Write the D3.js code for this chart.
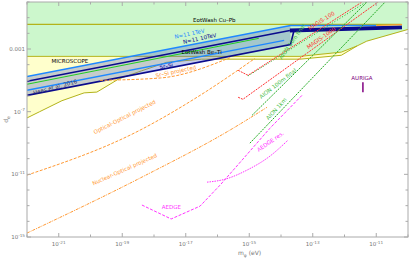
<!DOCTYPE html>
<html>
<head>
<meta charset="utf-8">
<script src="https://cdn.jsdelivr.net/npm/d3@7"></script>
<style>
  body { margin: 0; background: #fff; }
  text { font-family: "DejaVu Sans", sans-serif; }
</style>
</head>
<body>
<div id="chart"></div>
<script>
// all points are [log10 m_phi (eV), log10 d_e]
const eotwashCuPb = [[-22, -1.43], [-10.2, -1.43]];
const excludedLower = [[-22, -3.47], [-13.4, -3.47], [-12.1, -3.2], [-11.6, -2.8], [-11.3, -2.5], [-10, -1.75]];
const microscopeLower = [[-22, -7.4], [-21.6, -7.0], [-20.9, -6.3], [-20.2, -5.8], [-19.8, -5.75], [-19.1, -4.9],
  [-18.4, -4.4], [-17.6, -3.85], [-16.5, -3.65], [-13.4, -3.65], [-12.1, -3.4], [-11.6, -2.8]];

const tev1Upper = [[-22, -4.75], [-13.7, -1.5], [-11, -1.5]];
const tev10Upper = [[-22, -5.06], [-13.72, -1.82]];
const tev10Bar = [[-13.72, -1.82], [-10.19, -1.62]];
const heesLine = [[-22, -5.25], [-14.7, -2.32]];
const tev1Lower = [[-22, -5.64], [-13.9, -2.45]];
const tev10Lower = [[-22, -5.96], [-13.7, -2.71], [-13.6, -1.9]];
const orangeCap = [[-11, -1.5], [-10.19, -1.45]];

const opticalOptical = [[-22, -11.05], [-18.44, -8.18], [-16.55, -5.96], [-14.82, -3.6]];
const nuclearOptical = [[-22, -14.75], [-18.44, -11.24], [-15.61, -8.18], [-14.44, -6.72]];
const srSiProjected = [[-19.7, -5.0], [-17.8, -4.85], [-15.6, -3.55]];

const magis100 = [[-15.35, -4.36], [-15.04, -4.68], [-11.45, 0]];
const aion10 = [[-15.04, -4.72], [-11.32, 0]];
const magis1000 = [[-15.35, -6.08], [-15.2, -6.21], [-10.94, 0]];
const aion100 = [[-14.91, -7.23], [-11.29, 0]];
const aion1km = [[-14.98, -9.01], [-10.72, 0]];
const aedge = [[-18.38, -12.96], [-17.46, -13.85], [-16.55, -13.03], [-15.92, -11.69], [-15.23, -10.1],
  [-14.35, -8.06], [-13.34, -5.96]];
const aedgeRes = [[-16.33, -11.5], [-15.76, -11.31], [-15.07, -10.73], [-14.35, -9.84], [-13.78, -8.82]];
const auriga = [[-11.42, -5.13], [-11.42, -5.76]];

const xTickExps = d3.range(-22, -9);
const xLabelExps = [-21, -19, -17, -15, -13, -11];
const yTickExps = d3.range(-15, 1);
const yLabels = [[-3, "0.001"], [-7, "10", "-7"], [-11, "10", "-11"], [-15, "10", "-15"]];

const W = 411, H = 260;
const margin = { top: 2, right: 3, bottom: 23, left: 27 };

const svg = d3.select("#chart").append("svg")
  .attr("width", W).attr("height", H);

const x = d3.scaleLog().domain([1e-22, 1e-10]).range([margin.left, W - margin.right]);
const y = d3.scaleLog().domain([1e-15, 1]).range([H - margin.bottom, margin.top]);

const px = p => x(Math.pow(10, p[0]));
const py = p => y(Math.pow(10, p[1]));
const line = d3.line().x(px).y(py);
const smooth = d3.line().x(px).y(py).curve(d3.curveMonotoneX);

svg.append("defs").append("clipPath").attr("id", "plot")
  .append("rect")
  .attr("x", margin.left).attr("y", margin.top)
  .attr("width", W - margin.left - margin.right)
  .attr("height", H - margin.top - margin.bottom);

const plot = svg.append("g").attr("clip-path", "url(#plot)");

// excluded region (green) from the top frame down
const greenPoly = [[-22, 0], [-10, 0]].concat(excludedLower.slice().reverse());
plot.append("path").attr("d", line(greenPoly) + "Z").attr("fill", "#ccf7cc");

// MICROSCOPE region (yellow)
const yellowPoly = excludedLower.slice(0, 4).concat(microscopeLower.slice().reverse());
plot.append("path").attr("d", line(yellowPoly) + "Z").attr("fill", "#ffffcc");
plot.append("path").attr("d", line(microscopeLower)).attr("fill", "none").attr("stroke", "#b3b31a").attr("stroke-width", 1);
plot.append("path").attr("d", line(excludedLower)).attr("fill", "none").attr("stroke", "#b3b31a").attr("stroke-width", 1);
plot.append("path").attr("d", line(eotwashCuPb)).attr("fill", "none").attr("stroke", "#b3b31a").attr("stroke-width", 1.2);

// clock / naturalness bands
const band = tev1Upper.slice(0, 2).concat(tev10Lower.slice(0, 2).reverse());
plot.append("path").attr("d", line(band) + "Z").attr("fill", "rgba(90,110,200,0.35)");

const bandLines = [
  [tev1Upper, "#1e88ff", 1.5],
  [tev1Lower, "#1e88ff", 1.5],
  [tev10Upper, "#0a0a8c", 1.6],
  [tev10Bar, "#0a0a8c", 3.8],
  [tev10Lower, "#0a0a8c", 1.6],
  [heesLine, "#22cc22", 1],
  [orangeCap, "#ff9933", 1.2]
];
bandLines.forEach(([pts, c, w]) => {
  plot.append("path").attr("d", line(pts)).attr("fill", "none").attr("stroke", c).attr("stroke-width", w);
});

// projected sensitivities: [points, colour, dash, smooth?]
const dashed = [
  [opticalOptical, "#ff9933", "3,1.5", true],
  [nuclearOptical, "#ff9933", "3,1,1,1", true],
  [srSiProjected, "#ff9933", "3,1.5", true],
  [magis100, "#ff3333", "2,1", false],
  [aion10, "#22aa22", "1,2", false],
  [magis1000, "#ff3333", "2,1", false],
  [aion100, "#22aa22", "2,1", false],
  [aion1km, "#22aa22", "2,1", false],
  [aedge, "#ff33ff", "3,1.5", false],
  [aedgeRes, "#ff33ff", "1.5,1", true]
];
dashed.forEach(([pts, c, d, s]) => {
  plot.append("path").attr("d", (s ? smooth : line)(pts)).attr("fill", "none")
    .attr("stroke", c).attr("stroke-width", 1).attr("stroke-dasharray", d);
});

plot.append("path").attr("d", line(auriga)).attr("stroke", "#800080").attr("stroke-width", 1.5);

// labels: [text, logm, logd, angle, colour]
const labels = [
  ["EotWash Cu\u2013Pb", -16.1, -1.25, 0, "#000"],
  ["MICROSCOPE", -20.65, -3.9, 0, "#000"],
  ["EotWash Be\u2013Ti", -16.5, -3.3, 0, "#000"],
  ["N=11 1TeV", -16.87, -2.15, -12, "#1e88ff"],
  ["N=11 10TeV", -16.55, -2.45, -12, "#0a0a8c"],
  ["Hees et al. 2016", -21.1, -5.55, -15, "#333366"],
  ["Sr\u2013Si", -17.6, -4.2, -12, "#0a0a8c"],
  ["Sr\u2013Si projected", -17.3, -4.55, -12, "#ff9933"],
  ["Optical-Optical projected", -18.9, -7.45, -27, "#ff9933"],
  ["Nuclear-Optical projected", -18.9, -10.8, -24, "#ff9933"],
  ["AION 10m final", -13.6, -2.6, -55, "#44bb44"],
  ["MAGIS-100", -12.7, -1.3, -32, "#ff3333"],
  ["MAGIS-1000", -12.7, -2.4, -35, "#ff3333"],
  ["AION 100m final", -14.06, -5.3, -38, "#44bb44"],
  ["AION 1km", -14.1, -6.9, -48, "#44bb44"],
  ["AURIGA", -11.45, -4.95, 0, "#800080"],
  ["AEDGE res.", -14.3, -9.0, -35, "#ff33ff"],
  ["AEDGE", -17.45, -13.2, 0, "#ff33ff"]
];
labels.forEach(([t, lm, ld, a, c]) => {
  const X = x(Math.pow(10, lm)), Y = y(Math.pow(10, ld));
  plot.append("text").attr("transform", `translate(${X},${Y}) rotate(${a})`)
    .attr("text-anchor", "middle").attr("font-size", 5.5).attr("fill", c).text(t);
});

// frame
const axisColor = "#aaa";
svg.append("rect").attr("x", margin.left).attr("y", margin.top)
  .attr("width", W - margin.left - margin.right).attr("height", H - margin.top - margin.bottom)
  .attr("fill", "none").attr("stroke", axisColor).attr("stroke-width", 1);

const x0 = margin.left, x1 = W - margin.right, y0 = H - margin.bottom, y1 = margin.top;
xTickExps.forEach(e => {
  const X = x(Math.pow(10, e));
  const len = xLabelExps.includes(e) ? 4 : 2.5;
  svg.append("line").attr("x1", X).attr("x2", X).attr("y1", y0).attr("y2", y0 - len).attr("stroke", axisColor);
  svg.append("line").attr("x1", X).attr("x2", X).attr("y1", y1).attr("y2", y1 + len).attr("stroke", axisColor);
});
yTickExps.forEach(e => {
  const Y = y(Math.pow(10, e));
  const len = yLabels.some(l => l[0] === e) ? 4 : 2.5;
  svg.append("line").attr("x1", x0).attr("x2", x0 + len).attr("y1", Y).attr("y2", Y).attr("stroke", axisColor);
  svg.append("line").attr("x1", x1).attr("x2", x1 - len).attr("y1", Y).attr("y2", Y).attr("stroke", axisColor);
});

xLabelExps.forEach(e => {
  const t = svg.append("text").attr("x", x(Math.pow(10, e))).attr("y", y0 + 9)
    .attr("text-anchor", "middle").attr("font-size", 5.5).attr("fill", "#777");
  t.append("tspan").text("10");
  t.append("tspan").attr("dy", -2.5).attr("font-size", 4.2).text(e);
});
yLabels.forEach(l => {
  const t = svg.append("text").attr("x", x0 - 2).attr("y", y(Math.pow(10, l[0])) + 2)
    .attr("text-anchor", "end").attr("font-size", 5.5).attr("fill", "#777");
  t.append("tspan").text(l[1]);
  if (l[2]) t.append("tspan").attr("dy", -2.5).attr("font-size", 4.2).text(l[2]);
});

const xl = svg.append("text").attr("x", (x0 + x1) / 2 + 32).attr("y", H - 5)
  .attr("text-anchor", "middle").attr("font-size", 6).attr("fill", "#777");
xl.append("tspan").text("m");
xl.append("tspan").attr("dy", 1.5).attr("font-size", 4.5).text("\u03c6");
xl.append("tspan").attr("dy", -1.5).text(" (eV)");

const yl = svg.append("text").attr("transform", `translate(8,${(y0 + y1) / 2}) rotate(-90)`)
  .attr("text-anchor", "middle").attr("font-size", 6).attr("fill", "#777");
yl.append("tspan").text("d");
yl.append("tspan").attr("dy", 1.5).attr("font-size", 4.5).text("e");
</script>
</body>
</html>
